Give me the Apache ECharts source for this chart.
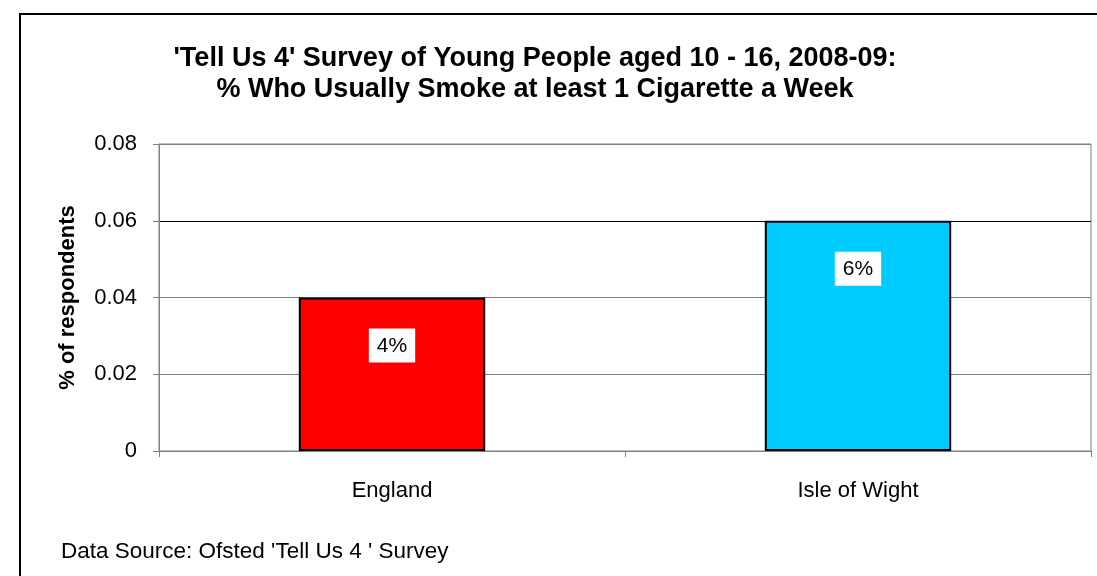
<!DOCTYPE html>
<html><head><meta charset="utf-8">
<script src="https://cdn.jsdelivr.net/npm/echarts@6/dist/echarts.min.js"></script>
<style>html,body{margin:0;padding:0;background:#fff}#c{width:1097px;height:576px}</style>
</head><body><div id="c"></div>
<script>
const categories = ['England', 'Isle of Wight'];
const values = [0.04, 0.06];
const labels = ['4%', '6%'];
const barColors = ['#FF0000', '#00CCFF'];
const yTicks = [0, 0.02, 0.04, 0.06, 0.08];

const chart = echarts.init(document.getElementById('c'), null, {renderer: 'canvas'});
const F = '"Liberation Sans", Arial, sans-serif';
chart.setOption({
  animation: false,
  backgroundColor: '#fff',
  title: {
    text: "'Tell Us 4' Survey of Young People aged 10 - 16, 2008-09:\n% Who Usually Smoke at least 1 Cigarette a Week",
    left: 530, top: 38, textAlign: 'center',
    textStyle: {fontFamily: F, fontWeight: 'bold', fontSize: 27, color: '#000', lineHeight: 31}
  },
  graphic: [
    {type: 'rect', shape: {x: 20, y: 14, width: 1200, height: 700}, style: {fill: 'none', stroke: '#000', lineWidth: 2}, silent: true},
    {type: 'text', left: 61, top: 540, style: {text: "Data Source: Ofsted 'Tell Us 4 ' Survey", font: '22.5px ' + F, fill: '#000'}}
  ],
  grid: {left: 159, right: 6, top: 144, bottom: 125, show: true, borderColor: '#808080', borderWidth: 1, containLabel: false},
  xAxis: {
    type: 'category', data: categories, boundaryGap: true,
    axisLine: {lineStyle: {color: '#808080', width: 1}},
    axisTick: {show: true, length: 6, lineStyle: {color: '#808080'}},
    axisLabel: {fontFamily: F, fontSize: 22, color: '#000', margin: 29}
  },
  yAxis: {
    type: 'value', min: yTicks[0], max: yTicks[yTicks.length - 1], interval: 0.02,
    name: '% of respondents', nameLocation: 'middle', nameGap: 80, nameRotate: 90,
    nameTextStyle: {fontFamily: F, fontWeight: 'bold', fontSize: 22, color: '#000'},
    axisLine: {show: true, lineStyle: {color: '#808080'}},
    axisTick: {show: true, length: 6, lineStyle: {color: '#808080'}},
    axisLabel: {fontFamily: F, fontSize: 22, color: '#000', margin: 22,
      formatter: v => (v === 0 ? '0' : v.toFixed(2))},
    splitLine: {show: true, lineStyle: {color: ['#808080', '#808080', '#808080', '#000000', '#808080'], width: 1}}
  },
  series: [{
    type: 'bar', barWidth: '40%',
    data: values.map((v, i) => ({value: v, itemStyle: {color: barColors[i]}})),
    itemStyle: {borderColor: '#000', borderWidth: 2},
    label: {
      show: true, position: 'insideTop', distance: 31,
      formatter: p => labels[p.dataIndex],
      fontFamily: F, fontSize: 21, color: '#000',
      backgroundColor: '#fff', padding: [7, 8, 6, 8]
    }
  }]
});
</script></body></html>
